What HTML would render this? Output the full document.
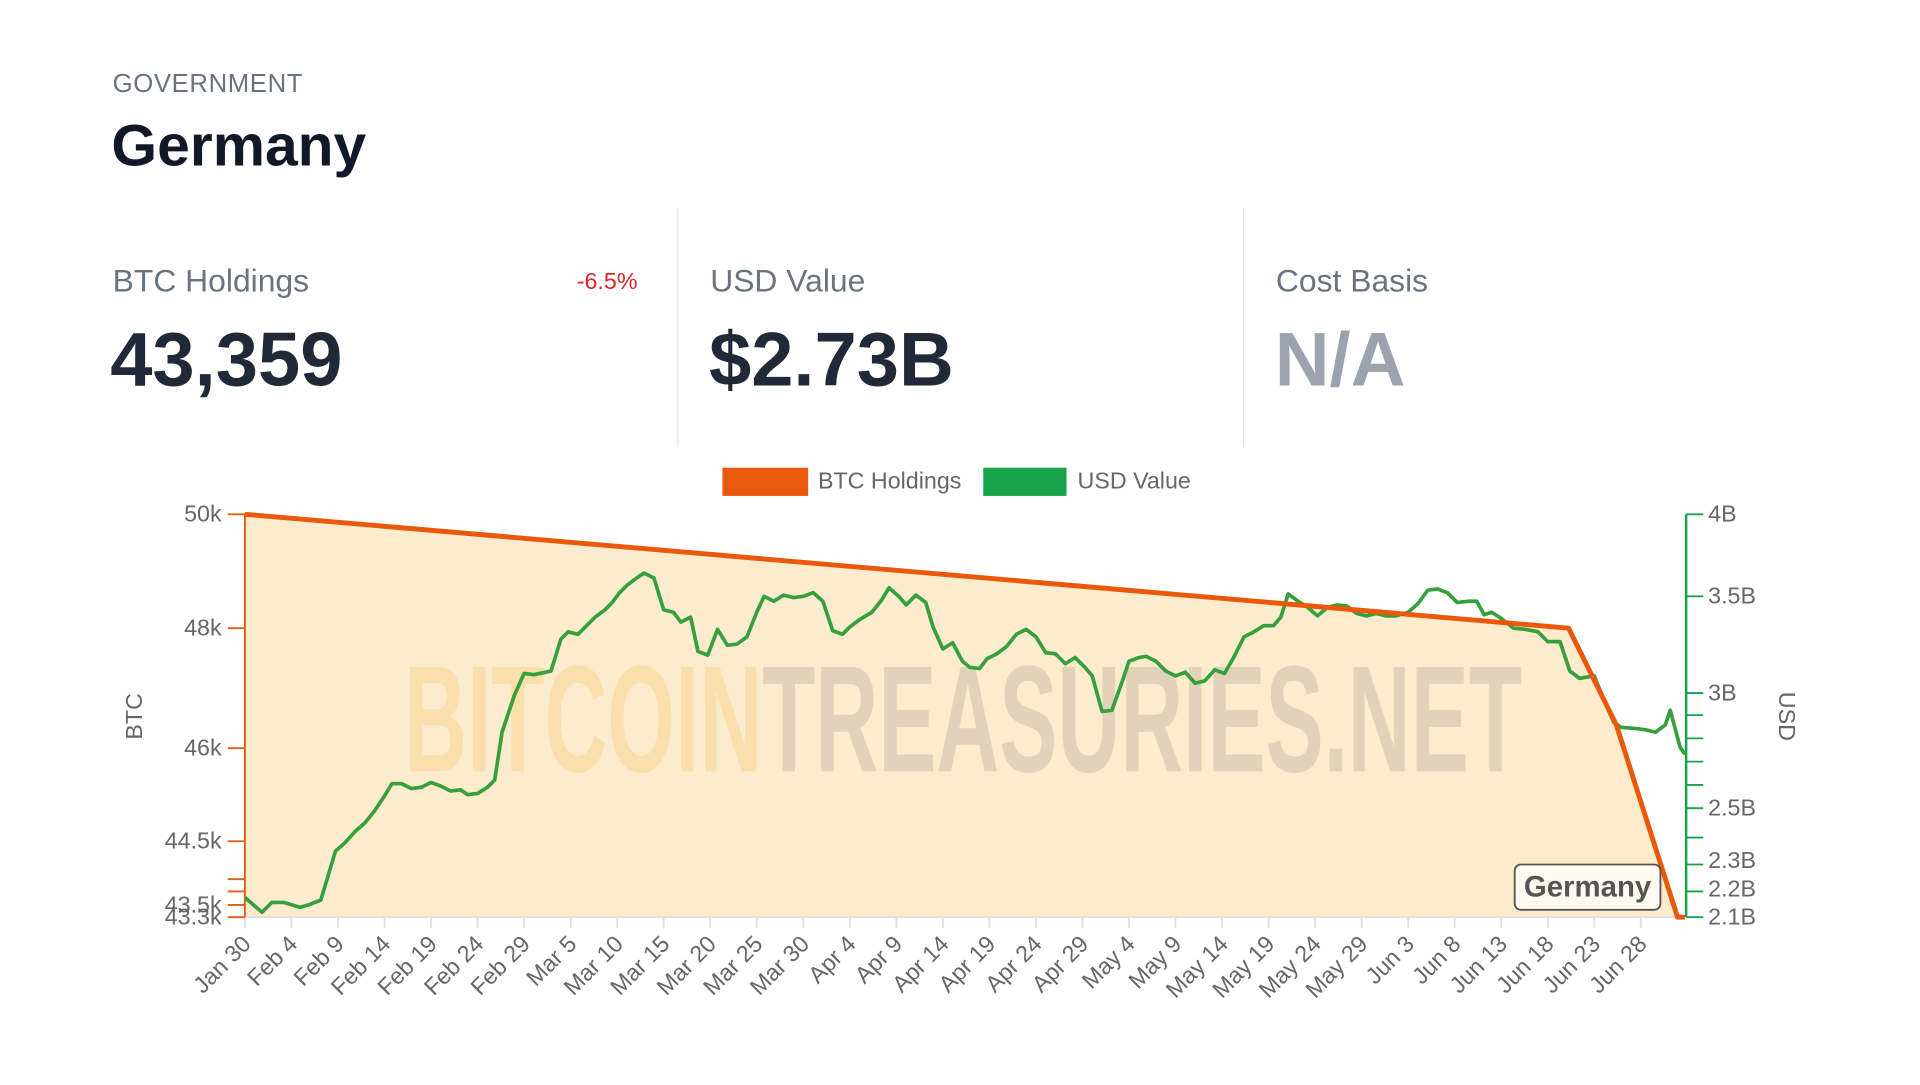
<!DOCTYPE html>
<html><head><meta charset="utf-8"><style>
html,body{margin:0;padding:0;background:#fff;overflow:hidden;width:1920px;height:1080px}
#w{position:absolute;left:0;top:0;width:1574px;height:886px;transform:scale(1.2245);transform-origin:0 0;font-family:"Liberation Sans",sans-serif}
.a{position:absolute;white-space:nowrap}
</style></head><body><div id="w">
<div class="a" style="left:92px;top:57px;font-size:21px;color:#6b7280;letter-spacing:0.5px">GOVERNMENT</div>
<div class="a" style="left:91px;top:92px;font-size:48px;font-weight:bold;color:#111827">Germany</div>
<div class="a" style="left:553px;top:170px;width:1px;height:195px;background:#e5e7eb"></div>
<div class="a" style="left:1015px;top:170px;width:1px;height:195px;background:#e5e7eb"></div>
<div class="a" style="left:92px;top:214px;font-size:26px;color:#6b7280">BTC Holdings</div>
<div class="a" style="left:471px;top:220px;font-size:19px;color:#dc2626">-6.5%</div>
<div class="a" style="left:90px;top:259px;font-size:62px;font-weight:bold;color:#1f2937">43,359</div>
<div class="a" style="left:580px;top:214px;font-size:26px;color:#6b7280">USD Value</div>
<div class="a" style="left:579px;top:259px;font-size:62px;font-weight:bold;color:#1f2937">$2.73B</div>
<div class="a" style="left:1042px;top:214px;font-size:26px;color:#6b7280">Cost Basis</div>
<div class="a" style="left:1041px;top:259px;font-size:62px;font-weight:bold;color:#9ca3af">N/A</div>
<svg class="a" style="left:0;top:0" width="1574" height="886" viewBox="0 0 1574 886" font-family="Liberation Sans, sans-serif">
<rect x="590" y="382" width="70" height="23" fill="#ea580c"/>
<text x="668" y="399" font-size="19" fill="#666">BTC Holdings</text>
<rect x="803" y="382" width="68" height="23" fill="#16a34a"/>
<text x="880" y="399" font-size="19" fill="#666">USD Value</text>
<polygon points="200,420 1281,513 1320,592 1370,749 1376,749 200,749" fill="#fcebcc"/>
<text x="330" y="630" font-size="124" font-weight="bold" font-family="Liberation Sans Narrow, Liberation Sans, sans-serif" textLength="913" lengthAdjust="spacingAndGlyphs"><tspan fill="#f9d9a0" fill-opacity="0.75">BITCOIN</tspan><tspan fill="#d6c8b0" fill-opacity="0.7">TREASURIES.NET</tspan></text>
<line x1="200" y1="749" x2="1376" y2="749" stroke="#e0e0e0" stroke-width="1.5"/>
<g stroke="#e0e0e0" stroke-width="1.5" id="xt"></g>
<g font-size="19" fill="#666" id="xl"></g>
<line x1="200" y1="420" x2="200" y2="749" stroke="#ea580c" stroke-width="1.5"/>
<g stroke="#ea580c" stroke-width="1.5">
<line x1="186" y1="420" x2="200" y2="420"/><line x1="186" y1="513" x2="200" y2="513"/><line x1="186" y1="611" x2="200" y2="611"/><line x1="186" y1="687" x2="200" y2="687"/><line x1="186" y1="718" x2="200" y2="718"/><line x1="186" y1="728" x2="200" y2="728"/><line x1="186" y1="739" x2="200" y2="739"/><line x1="186" y1="749" x2="200" y2="749"/></g>
<g font-size="19" fill="#666" text-anchor="end">
<text x="181" y="426">50k</text><text x="181" y="519">48k</text><text x="181" y="617">46k</text><text x="181" y="693">44.5k</text><text x="181" y="745">43.5k</text><text x="181" y="755">43.3k</text></g>
<text transform="translate(116,585) rotate(-90)" font-size="19" fill="#666" text-anchor="middle">BTC</text>
<line x1="1377" y1="420" x2="1377" y2="749" stroke="#16a34a" stroke-width="2"/>
<g stroke="#16a34a" stroke-width="1.5">
<line x1="1377" y1="420" x2="1391" y2="420"/><line x1="1377" y1="487" x2="1391" y2="487"/><line x1="1377" y1="566" x2="1391" y2="566"/><line x1="1377" y1="584" x2="1391" y2="584"/><line x1="1377" y1="603" x2="1391" y2="603"/><line x1="1377" y1="622" x2="1391" y2="622"/><line x1="1377" y1="641" x2="1391" y2="641"/><line x1="1377" y1="660" x2="1391" y2="660"/><line x1="1377" y1="684" x2="1391" y2="684"/><line x1="1377" y1="706" x2="1391" y2="706"/><line x1="1377" y1="728" x2="1391" y2="728"/><line x1="1377" y1="749" x2="1391" y2="749"/></g>
<g font-size="19" fill="#666">
<text x="1395" y="426">4B</text><text x="1395" y="493">3.5B</text><text x="1395" y="572">3B</text><text x="1395" y="666">2.5B</text><text x="1395" y="709">2.3B</text><text x="1395" y="732">2.2B</text><text x="1395" y="755">2.1B</text></g>
<text transform="translate(1453,585) rotate(90)" font-size="19" fill="#666" text-anchor="middle">USD</text>
<polyline fill="none" stroke="#35a03c" stroke-width="3" stroke-linejoin="round" points="200,733 214,745 222,737 232,737 245,741 252,739 262,735 274,695 282,688 290,679 298,672 306,662 314,650 320,640 328,640 336,644 344,643 352,639 360,642 368,646 376,645 382,649 390,648 398,643 404,637 410,598 420,568 428,550 436,551 450,548 458,522 464,516 472,518 478,512 486,504 494,498 500,492 506,484 512,478 520,472 526,468 534,472 542,498 550,500 556,508 564,504 570,532 578,535 586,514 594,527 602,526 610,520 618,500 624,487 632,491 640,486 648,488 656,487 664,484 672,491 680,515 688,518 694,512 702,506 712,500 720,490 726,480 734,487 740,494 748,486 756,492 762,512 770,530 778,525 786,540 792,545 800,546 806,538 814,534 822,528 830,518 838,514 846,520 854,533 862,534 870,542 878,537 886,545 892,552 900,581 908,580 916,558 922,540 930,537 936,536 944,540 952,548 960,552 968,549 976,558 984,556 992,547 1000,550 1008,536 1016,520 1024,516 1032,511 1040,511 1046,504 1052,485 1060,491 1068,496 1076,503 1084,496 1092,494 1100,495 1108,501 1116,503 1124,501 1132,503 1140,503 1150,500 1158,493 1166,482 1174,481 1182,484 1190,492 1200,491 1206,491 1212,502 1218,500 1226,505 1236,513 1246,514 1256,516 1264,524 1274,524 1282,548 1290,554 1302,552 1310,572 1318,590 1324,594 1336,595 1344,596 1352,598 1360,592 1364,580 1372,610 1376,616"/>
<polyline fill="none" stroke="#ea580c" stroke-width="4" stroke-linejoin="round" points="200,420 1281,513 1320,592 1370,749 1376,749"/>
<rect x="1237" y="706" width="119" height="37" rx="5" fill="#fffaf2" stroke="#555" stroke-width="1.5"/>
<text x="1296.5" y="732" font-size="24" font-weight="bold" fill="#555" text-anchor="middle">Germany</text>
</svg>
<script>
var L=["Jan 30","Feb 4","Feb 9","Feb 14","Feb 19","Feb 24","Feb 29","Mar 5","Mar 10","Mar 15","Mar 20","Mar 25","Mar 30","Apr 4","Apr 9","Apr 14","Apr 19","Apr 24","Apr 29","May 4","May 9","May 14","May 19","May 24","May 29","Jun 3","Jun 8","Jun 13","Jun 18","Jun 23","Jun 28"];
var t=document.getElementById('xt'),l=document.getElementById('xl'),ns="http://www.w3.org/2000/svg";
for(var i=0;i<L.length;i++){var x=200+i*(1340-200)/30;
var ln=document.createElementNS(ns,'line');ln.setAttribute('x1',x);ln.setAttribute('x2',x);ln.setAttribute('y1',749);ln.setAttribute('y2',758);t.appendChild(ln);
var tx=document.createElementNS(ns,'text');tx.setAttribute('text-anchor','end');tx.setAttribute('transform','translate('+(x+6)+',772) rotate(-45)');tx.textContent=L[i];l.appendChild(tx);}
</script>
</div></body></html>
